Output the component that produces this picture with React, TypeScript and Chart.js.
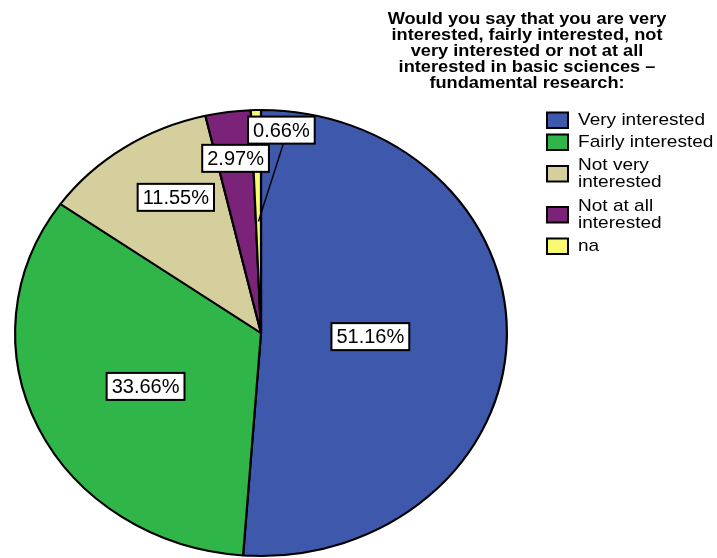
import React, { useEffect, useRef } from "react";
import { Chart, registerables } from "chart.js";

Chart.register(...registerables);

// Survey answers, share of respondents (%)
const categories: (string | string[])[] = [
  "Very interested",
  "Fairly interested",
  ["Not very", "interested"],
  ["Not at all", "interested"],
  "na",
];
const shares = [51.16, 33.66, 11.55, 2.97, 0.66];
const sliceColors = ["#3e58ac", "#30b548", "#d4cf9c", "#7b2378", "#fafa72"];

const titleLines = [
  "Would you say that you are very",
  "interested, fairly interested, not",
  "very interested or not at all",
  "interested in basic sciences \u2013",
  "fundamental research:",
];

// Label placement inside each slice: radial fraction, angular nudge (deg), x shift (px), leader line
const labelRadius = [0.445, 0.527, 0.7, 0.79, 0.91];
const labelAngleNudge = [0, -1.8, 4.2, 0.2, 0];
const labelShiftX = [0, 0, 0, 0, 25];
const labelLeader = [false, false, false, false, true];

const FONT = '"Liberation Sans", Arial, Helvetica, sans-serif';
const X_STRETCH = 247 / 224;

// draws text widened horizontally around its anchor
function wideText(ctx: CanvasRenderingContext2D, text: string, x: number, y: number, sx: number) {
  ctx.save();
  ctx.translate(x, y);
  ctx.scale(sx, 1);
  ctx.fillText(text, 0, 0);
  ctx.restore();
}

const piePlugin = {
  id: "ovalPie",
  beforeDatasetsDraw(chart: any) {
    const arc = chart.getDatasetMeta(0).data[0];
    const ctx = chart.ctx;
    ctx.save();
    ctx.translate(arc.x, 0);
    ctx.scale(X_STRETCH, 1);
    ctx.translate(-arc.x, 0);
  },
  afterDatasetsDraw(chart: any) {
    const ctx = chart.ctx;
    ctx.restore();

    const meta = chart.getDatasetMeta(0);
    const values = chart.data.datasets[0].data as number[];

    // value boxes
    ctx.save();
    ctx.font = `20px ${FONT}`;
    ctx.textAlign = "center";
    ctx.textBaseline = "middle";
    meta.data.forEach((a: any, i: number) => {
      const mid = (a.startAngle + a.endAngle) / 2 + (labelAngleNudge[i] * Math.PI) / 180;
      const r = a.outerRadius * labelRadius[i];
      const x = a.x + X_STRETCH * r * Math.cos(mid) + labelShiftX[i];
      const y = a.y + r * Math.sin(mid);
      const text = values[i].toFixed(2) + "%";
      const w = ctx.measureText(text).width + 10;
      const h = 27;
      if (labelLeader[i]) {
        const aMid = (a.startAngle + a.endAngle) / 2;
        const rr = a.outerRadius * 0.5;
        ctx.beginPath();
        ctx.moveTo(x + 2, y + h / 2);
        ctx.lineTo(a.x + X_STRETCH * rr * Math.cos(aMid), a.y + rr * Math.sin(aMid));
        ctx.lineWidth = 1.5;
        ctx.strokeStyle = "#000";
        ctx.stroke();
      }
      ctx.fillStyle = "#fff";
      ctx.fillRect(x - w / 2, y - h / 2, w, h);
      ctx.lineWidth = 2;
      ctx.strokeStyle = "#000";
      ctx.strokeRect(x - w / 2, y - h / 2, w, h);
      ctx.fillStyle = "#000";
      ctx.fillText(text, x, y + 1);
    });

    // title
    ctx.font = `bold 17px ${FONT}`;
    ctx.textAlign = "center";
    ctx.textBaseline = "alphabetic";
    titleLines.forEach((line, i) => {
      wideText(ctx, line, 527, 24 + i * 15.9, 1.07);
    });

    // legend
    ctx.font = `17px ${FONT}`;
    ctx.textAlign = "left";
    let rowTop = 109;
    (chart.data.labels as (string | string[])[]).forEach((lab, i) => {
      const lines = Array.isArray(lab) ? lab : [lab];
      const rowH = lines.length > 1 ? 41 : 22;
      const cy = rowTop + rowH / 2;
      ctx.fillStyle = sliceColors[i];
      ctx.fillRect(547, cy - 7.5, 21, 15.5);
      ctx.lineWidth = 2;
      ctx.strokeStyle = "#000";
      ctx.strokeRect(547, cy - 7.5, 21, 15.5);
      ctx.fillStyle = "#000";
      ctx.textBaseline = "middle";
      const lh = 17.3;
      lines.forEach((t, k) => {
        wideText(ctx, t, 578, cy - ((lines.length - 1) * lh) / 2 + k * lh, 1.12);
      });
      rowTop += rowH;
    });
    ctx.restore();
  },
};

export default function App() {
  const ref = useRef<HTMLCanvasElement | null>(null);
  useEffect(() => {
    if (!ref.current) return;
    const chart = new Chart(ref.current, {
      type: "pie",
      data: {
        labels: categories as any,
        datasets: [
          {
            data: shares,
            backgroundColor: sliceColors,
            borderColor: "#000",
            borderWidth: 2,
            clip: false as any,
          },
        ],
      },
      options: {
        responsive: false,
        animation: false,
        devicePixelRatio: 1,
        layout: { padding: { left: 37, right: 232, top: 109, bottom: 1 } },
        plugins: {
          legend: { display: false },
          tooltip: { enabled: false },
          title: { display: false },
        },
      },
      plugins: [piePlugin],
    });
    return () => chart.destroy();
  }, []);
  return (
    <div style={{ position: "absolute", left: 0, top: 0, width: 717, height: 558, background: "#fff" }}>
      <canvas ref={ref} width={717} height={558} style={{ width: 717, height: 558 }} />
    </div>
  );
}
